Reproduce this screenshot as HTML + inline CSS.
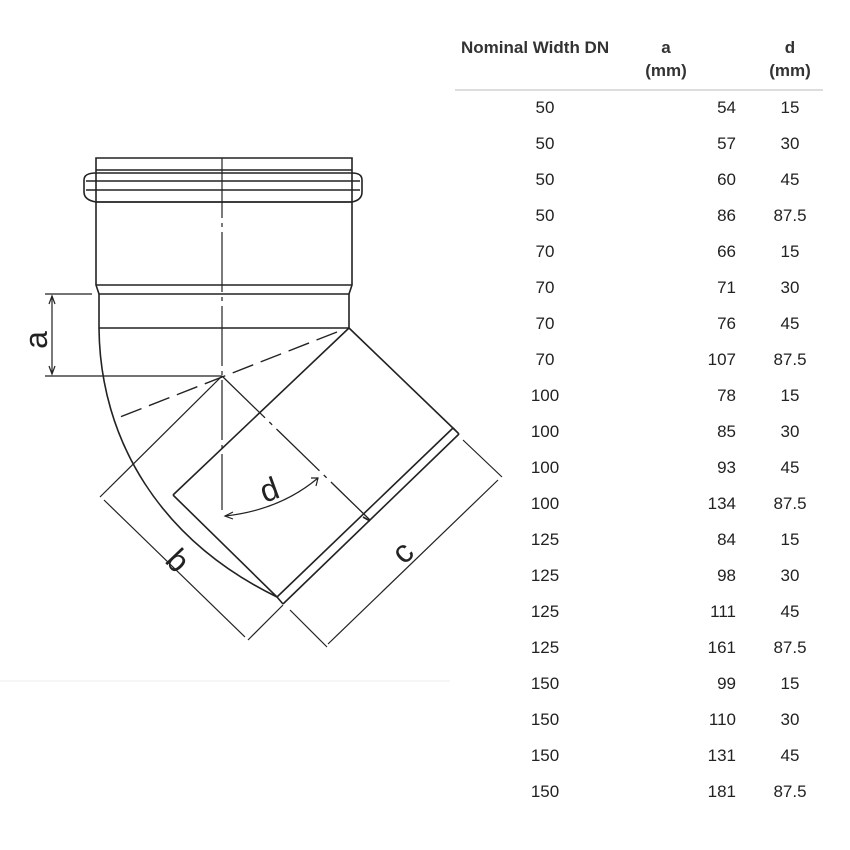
<!DOCTYPE html>
<html><head><style>
body{margin:0;background:#fff;width:850px;height:850px;overflow:hidden;position:relative;font-family:"Liberation Sans",Arial,sans-serif;}
.t{position:absolute;font-size:17px;color:#222;}
.h{position:absolute;font-size:17px;line-height:23px;font-weight:bold;color:#333;}
</style></head><body>
<svg width="850" height="850" style="position:absolute;left:0;top:0" fill="none" stroke="#222" stroke-width="1.6">
<path d="M96 202 V158 H352 V202"/>
<line x1="96" y1="170" x2="352" y2="170"/>
<path d="M96 173 H352 Q362 173 362 180 V192 Q362 200 352 202 H96 Q84 200 84 192 V180 Q84 173 96 173Z"/>
<line x1="86" y1="181" x2="360" y2="181"/>
<line x1="86" y1="190" x2="360" y2="190"/>
<line x1="96" y1="202" x2="352" y2="202"/>
<path d="M96 202 V285 L99 294 M352 202 V285 L349 294"/>
<line x1="96" y1="285" x2="352" y2="285"/>
<line x1="99" y1="294" x2="349" y2="294"/>
<path d="M99 294 V328 M349 294 V328"/>
<line x1="99" y1="328" x2="349" y2="328"/>
<path d="M99 328 C100 440 160 540 277 597"/>
<line x1="349" y1="328" x2="455" y2="430"/>
<line x1="349" y1="328" x2="173" y2="495"/>
<line x1="173" y1="495" x2="277" y2="597"/>
<line x1="277" y1="597" x2="453" y2="428"/>
<line x1="283" y1="604" x2="459" y2="434"/>
<line x1="277" y1="597" x2="283" y2="604"/>
<line x1="453" y1="428" x2="459" y2="434"/>
<line x1="363" y1="517" x2="370" y2="521"/>
<line x1="222" y1="158" x2="222" y2="510" stroke-dasharray="60 5 4 5" stroke-width="1.2"/>
<line x1="337" y1="332" x2="120" y2="417" stroke-dasharray="22 8" stroke-width="1.4"/>
<line x1="222" y1="376" x2="370" y2="520" stroke-dasharray="60 6 4 6" stroke-width="1.3"/>
<line x1="45" y1="294" x2="92" y2="294" stroke-width="1.2"/>
<line x1="45" y1="376" x2="222" y2="376" stroke-width="1.2"/>
<line x1="52" y1="296" x2="52" y2="374" stroke-width="1.2"/>
<path d="M49 304 L52 296 L55 304 M49 366 L52 374 L55 366" stroke-width="1.2"/>
<line x1="222" y1="376" x2="100" y2="497" stroke-width="1.2"/>
<line x1="283" y1="605" x2="248" y2="640" stroke-width="1.2"/>
<line x1="104" y1="500" x2="245" y2="637" stroke-width="1.2"/>
<line x1="463" y1="440" x2="502" y2="477" stroke-width="1.2"/>
<line x1="290" y1="610" x2="327" y2="647" stroke-width="1.2"/>
<line x1="498" y1="480" x2="328" y2="644" stroke-width="1.2"/>
<path d="M225 516 Q280 510 318 478" stroke-width="1.2"/>
<path d="M233 512 L225 516 L233 519 M311 478 L318 478 L316 486" stroke-width="1.2"/>
<line x1="0" y1="681" x2="450" y2="681" stroke="#eee" stroke-width="1"/>
<g fill="#222" stroke="none" font-family="Liberation Sans,Arial,sans-serif" font-size="32">
<text x="0" y="0" transform="translate(47,340) rotate(-90)" text-anchor="middle">a</text>
<text x="0" y="0" transform="translate(273,500) rotate(-20)" text-anchor="middle">d</text>
<text x="0" y="0" transform="translate(170,568) rotate(46)" text-anchor="middle">b</text>
<text x="0" y="0" transform="translate(410,560) rotate(-44)" text-anchor="middle">c</text>
</g>
<line x1="455" y1="90" x2="823" y2="90" stroke="#ddd" stroke-width="2"/>
</svg>
<div class="h" style="left:461px;top:36px">Nominal Width DN</div>
<div class="h" style="left:638px;top:36px;width:56px;text-align:center">a<br>(mm)</div>
<div class="h" style="left:762px;top:36px;width:56px;text-align:center">d<br>(mm)</div>
<div id="rows"></div>
<script>
var d=[[50,54,15],[50,57,30],[50,60,45],[50,86,87.5],[70,66,15],[70,71,30],[70,76,45],[70,107,87.5],[100,78,15],[100,85,30],[100,93,45],[100,134,87.5],[125,84,15],[125,98,30],[125,111,45],[125,161,87.5],[150,99,15],[150,110,30],[150,131,45],[150,181,87.5]];
var h='';d.forEach(function(r,i){var y=98+i*36;
h+='<div class="t" style="left:505px;top:'+y+'px;width:80px;text-align:center">'+r[0]+'</div>';
h+='<div class="t" style="left:676px;top:'+y+'px;width:60px;text-align:right">'+r[1]+'</div>';
h+='<div class="t" style="left:755px;top:'+y+'px;width:70px;text-align:center">'+r[2]+'</div>';});
document.getElementById('rows').innerHTML=h;
</script>
</body></html>
